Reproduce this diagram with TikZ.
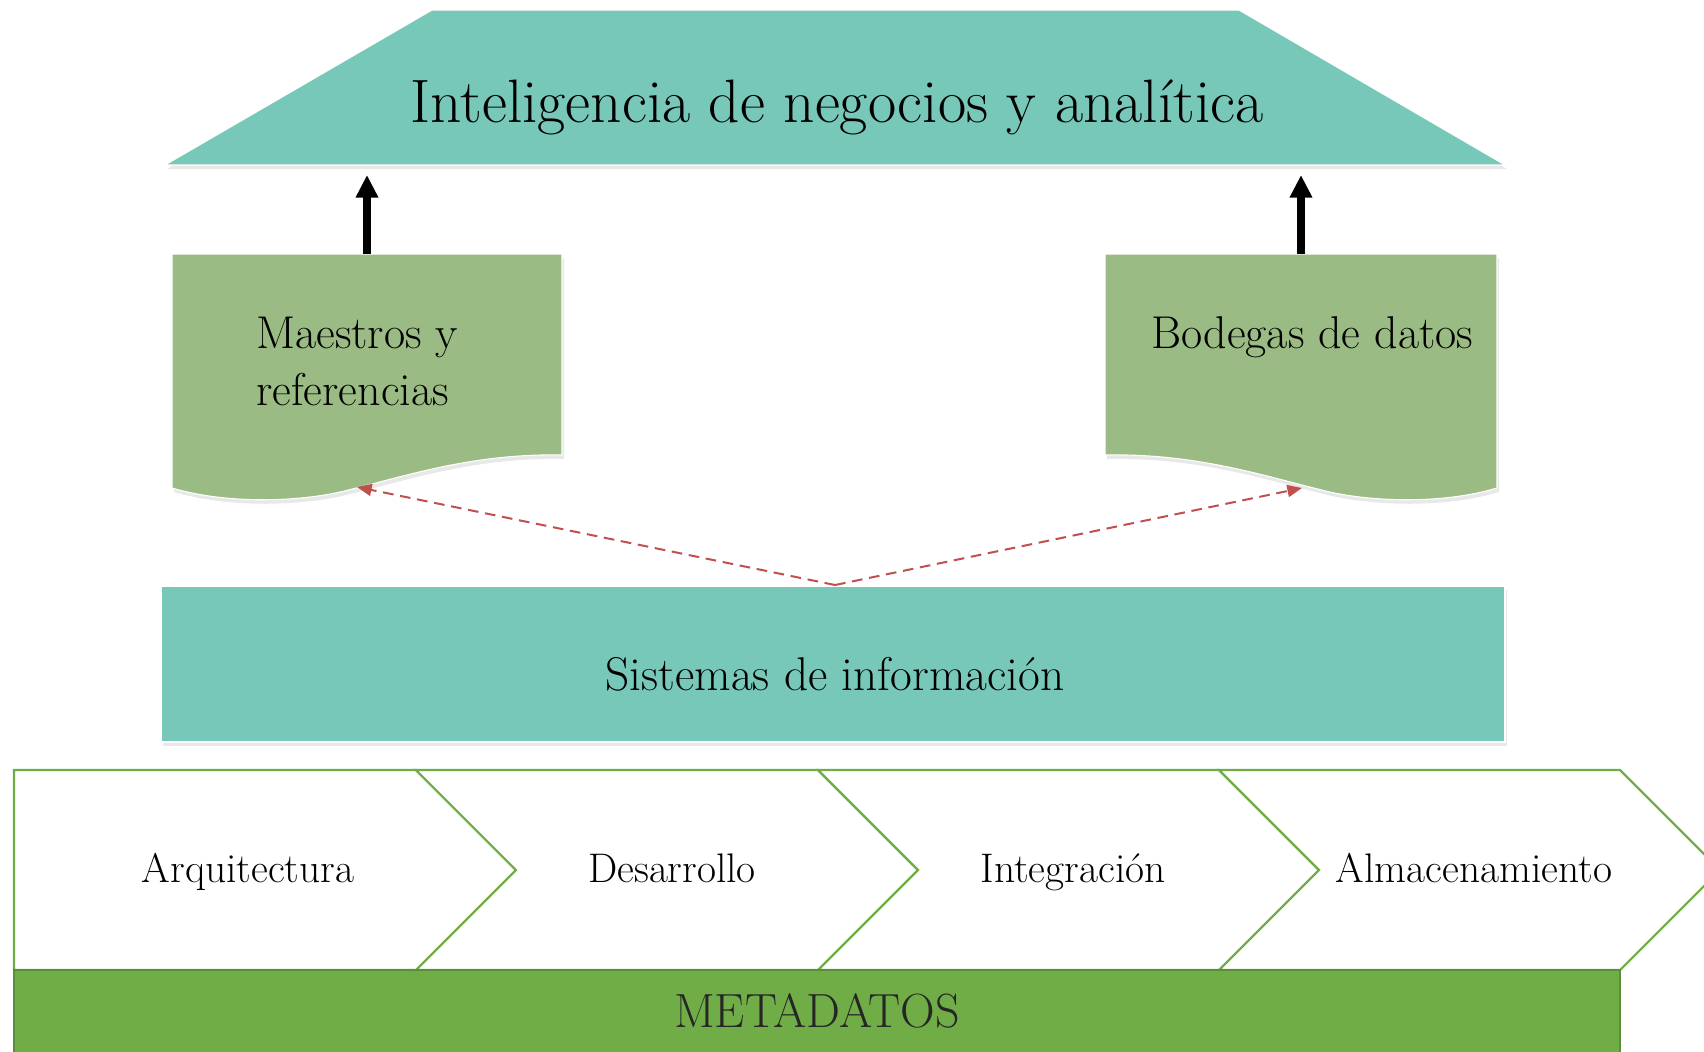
\documentclass[tikz,border=0pt]{standalone}
\usetikzlibrary{arrows.meta,shadows}
\definecolor{tealf}{HTML}{78C8B9}
\definecolor{docg}{HTML}{9BBB85}
\definecolor{metag}{HTML}{70AD47}
\definecolor{metab}{HTML}{5A8F3A}
\definecolor{redd}{HTML}{C0504D}
\begin{document}
\begin{tikzpicture}[x=0.75pt,y=-0.75pt,
  softshadow/.style={drop shadow={opacity=0.18,shadow xshift=1.5pt,shadow yshift=-3pt}},
  tealshape/.style={fill=tealf,draw=white,line width=0.8pt,softshadow},
  docshape/.style={fill=docg,draw=white,line width=0.8pt,softshadow},
  chev/.style={fill=white,draw=metag,line width=1.6pt,line join=miter},
  lbl/.style={inner sep=0pt,text=black},
  bigarrow/.style={line width=6pt,-{Triangle[length=17pt,width=16pt]}},
  dasharrow/.style={draw=redd,line width=1.5pt,dash pattern=on 8pt off 5pt,-{Triangle[length=11pt,width=9pt]}}
]
\useasboundingbox (0,0) rectangle (1704,1051);
\clip (0,0) rectangle (1704,1051);

% top trapezoid
\path[tealshape] (432,10) -- (1239,10) -- (1505,165) -- (165,165) -- cycle;
\node[lbl,font=\fontsize{46}{54}\selectfont] (bi) at (837,107) {Inteligencia de negocios y analítica};

% documents
\path[docshape] (172,254) -- (562,254) -- (562,455)
  .. controls (470,453) and (400,478) .. (340,492)
  .. controls (300,501) and (230,505) .. (172,488) -- cycle;
\path[docshape] (1105,254) -- (1497,254) -- (1497,488)
  .. controls (1440,505) and (1370,501) .. (1330,492)
  .. controls (1270,478) and (1200,453) .. (1105,455) -- cycle;
\node[lbl,anchor=base west,font=\fontsize{34.5}{40}\selectfont] (ma1) at (256,348) {Maestros y};
\node[lbl,anchor=base west,font=\fontsize{34.5}{40}\selectfont] (ma2) at (256,405) {referencias};
\node[lbl,anchor=base west,font=\fontsize{34.5}{40}\selectfont] (bd) at (1151,348) {Bodegas de datos};

% sistemas
\path[tealshape] (161,586) rectangle (1505,742);
\node[lbl,anchor=base,font=\fontsize{35.5}{40}\selectfont] (si) at (835,690) {Sistemas de información};

% arrows
\coordinate (mTop) at (367,254);
\coordinate (mUp) at (367,175);
\coordinate (bTop) at (1301,254);
\coordinate (bUp) at (1301,175);
\draw[bigarrow] (mTop) -- (mUp);
\draw[bigarrow] (bTop) -- (bUp);
\coordinate (sTop) at (835,585);
\coordinate (mBot) at (357,487);
\coordinate (bBot) at (1302,488);
\draw[dasharrow] (sTop) -- (mBot);
\draw[dasharrow] (sTop) -- (bBot);

% chevrons
\path[chev] (14,770) -- (416,770) -- (516,870) -- (416,970) -- (14,970) -- cycle;
\path[chev] (416,770) -- (818,770) -- (918,870) -- (818,970) -- (416,970) -- (516,870) -- cycle;
\path[chev] (818,770) -- (1219,770) -- (1319,870) -- (1219,970) -- (818,970) -- (918,870) -- cycle;
\path[chev] (1219,770) -- (1620,770) -- (1720,870) -- (1620,970) -- (1219,970) -- (1319,870) -- cycle;
\node[lbl,anchor=base,font=\fontsize{31}{36}\selectfont] (c1) at (248,882) {Arquitectura};
\node[lbl,anchor=base,font=\fontsize{31}{36}\selectfont] (c2) at (672,882) {Desarrollo};
\node[lbl,anchor=base,font=\fontsize{31}{36}\selectfont] (c3) at (1073,882) {Integración};
\node[lbl,anchor=base,font=\fontsize{31}{36}\selectfont] (c4) at (1474,882) {Almacenamiento};

% metadatos
\path[fill=metag,draw=metab,line width=1pt] (14,970) rectangle (1620,1060);
\node[lbl,anchor=base,font=\fontsize{36}{40}\selectfont,text=black!85] (md) at (817,1027) {METADATOS};
\end{tikzpicture}
\end{document}
